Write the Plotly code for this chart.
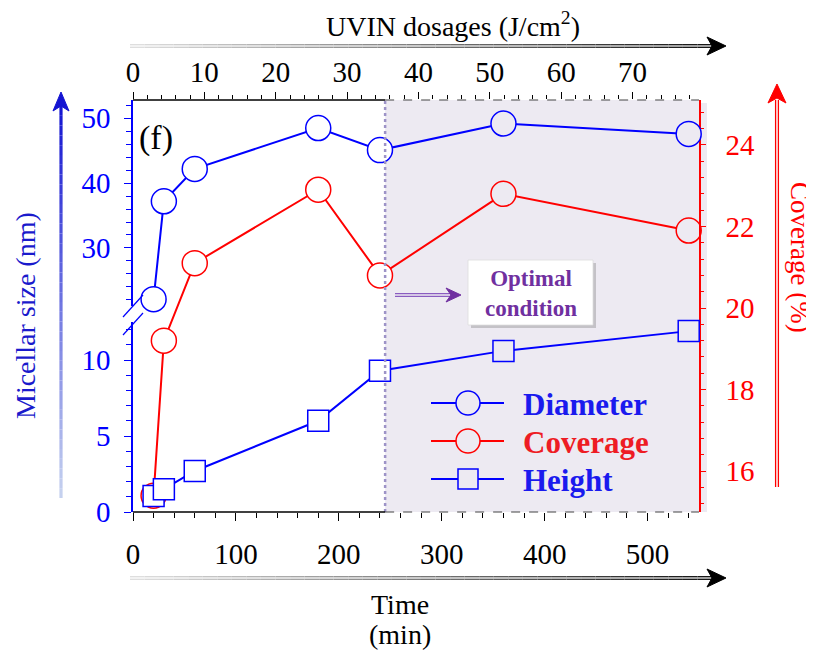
import plotly.graph_objects as go

# ---------------- data ----------------
time_min = [20, 30, 60, 180, 240, 360, 540]
diameter_nm = [22.1, 37.2, 42.2, 48.5, 45.1, 49.2, 47.6]
coverage_pct = [15.4, 19.2, 21.1, 22.9, 20.8, 22.8, 21.9]
height_nm = [1.05, 1.5, 2.7, 6.0, 9.3, 10.6, 11.9]

time_ticks = [0, 100, 200, 300, 400, 500]
dose_ticks = [0, 10, 20, 30, 40, 50, 60, 70]
coverage_ticks = [16, 18, 20, 22, 24]
height_ticks = [0, 5, 10]
diameter_ticks = [30, 40, 50]
optimal_time = 245

series_names = ["Diameter", "Coverage", "Height"]

# ---------------- layout geometry (screen pixels) ----------------
FW, FH = 814, 654
OFF = 8  # page body margin of the html page
L, R, T, B = 133, 699, 100, 512
W, H = R - L, B - T


def X(p):
    return (p - L) / W


def Y(p):
    return (B - p) / H


BLUE = "#0000ff"
RED = "#ff0000"
PURPLE = "#7030a0"
SHADE = "#edeaf2"
FONT = "Liberation Serif"

shade_fill = [SHADE if t > optimal_time else "white" for t in time_min]

fig = go.Figure()

fig.add_trace(go.Scatter(
    x=time_min, y=coverage_pct, xaxis="x", yaxis="y", mode="lines+markers",
    line=dict(color=RED, width=2),
    marker=dict(symbol="circle", size=25, color=shade_fill, line=dict(color=RED, width=1.5)),
    cliponaxis=False, showlegend=False, name=series_names[1]))
fig.add_trace(go.Scatter(
    x=time_min, y=height_nm, xaxis="x", yaxis="y2", mode="lines+markers",
    line=dict(color=BLUE, width=2),
    marker=dict(symbol="square", size=21, color=shade_fill, line=dict(color=BLUE, width=1.5)),
    cliponaxis=False, showlegend=False, name=series_names[2]))
fig.add_trace(go.Scatter(
    x=time_min, y=diameter_nm, xaxis="x", yaxis="y3", mode="lines+markers",
    line=dict(color=BLUE, width=2),
    marker=dict(symbol="circle", size=25, color=shade_fill, line=dict(color=BLUE, width=1.5)),
    cliponaxis=False, showlegend=False, name=series_names[0]))
# empty trace so that the top (dose) axis gets drawn
fig.add_trace(go.Scatter(x=[None], y=[None], xaxis="x2", yaxis="y", mode="markers",
                         showlegend=False, hoverinfo="skip"))

tickfont = dict(family=FONT, size=29)

shapes = []
annotations = []

# shaded "optimal" region
shapes.append(dict(type="rect", xref="x", yref="paper", x0=optimal_time, x1=550, y0=0, y1=1,
                   fillcolor=SHADE, line=dict(width=0), layer="below"))
shapes.append(dict(type="rect", xref="paper", yref="paper", x0=X(699), x1=X(707), y0=Y(512), y1=Y(103),
                   fillcolor=SHADE, line=dict(width=0), layer="below"))
shapes.append(dict(type="line", xref="x", yref="paper", x0=optimal_time, x1=optimal_time, y0=0, y1=1,
                   line=dict(color="#9d93c7", width=2.5, dash="dot")))

# top & bottom axis lines (solid then dashed over shaded region)
for yy in (0, 1):
    shapes.append(dict(type="line", xref="x", yref="paper", x0=0, x1=optimal_time, y0=yy, y1=yy,
                       line=dict(color="black", width=1.5)))
    shapes.append(dict(type="line", xref="x", yref="paper", x0=optimal_time, x1=550, y0=yy, y1=yy,
                       line=dict(color="#444444", width=1.2, dash="dash")))


def grad_line(x0, y0, x1, y1, c0, c1, width, n=40):
    for i in range(n):
        a = i / n
        b = (i + 1) / n
        m = (a + b) / 2
        col = "rgb(%d,%d,%d)" % tuple(int(c0[k] + (c1[k] - c0[k]) * m) for k in range(3))
        shapes.append(dict(type="line", xref="paper", yref="paper",
                           x0=X(x0 + (x1 - x0) * a), y0=Y(y0 + (y1 - y0) * a),
                           x1=X(x0 + (x1 - x0) * b), y1=Y(y0 + (y1 - y0) * b),
                           line=dict(color=col, width=width)))


def head(pts, color):
    path = "M " + " L ".join("%f,%f" % (X(px), Y(py)) for px, py in pts) + " Z"
    shapes.append(dict(type="path", xref="paper", yref="paper", path=path,
                       fillcolor=color, line=dict(color=color, width=1)))


# horizontal gradient arrows (top and bottom)
for ya in (46, 578):
    grad_line(130, ya - 1.3, 712, ya - 1.3, (225, 225, 225), (20, 20, 20), 1.4)
    grad_line(130, ya + 1.3, 712, ya + 1.3, (225, 225, 225), (20, 20, 20), 1.4)
    head([(726, ya), (707, ya - 9), (712, ya), (707, ya + 9)], "black")

# left blue gradient arrow
grad_line(61, 498, 61, 106, (200, 212, 240), (20, 20, 210), 3.2)
head([(61, 92), (53, 111), (61, 106), (69, 111)], "#1414d2")

# right red arrow (double line)
for dx in (-1.4, 1.4):
    shapes.append(dict(type="line", xref="paper", yref="paper", x0=X(777 + dx), x1=X(777 + dx),
                       y0=Y(487), y1=Y(100), line=dict(color=RED, width=1.3)))
head([(777, 84), (768, 103), (777, 98), (786, 103)], RED)

# "Optimal condition" arrow and box
for dy in (-1.3, 1.3):
    shapes.append(dict(type="line", xref="paper", yref="paper", x0=X(395), x1=X(452),
                       y0=Y(295 + dy), y1=Y(295 + dy), line=dict(color="#8a5cc0", width=1.3)))
head([(461, 295), (446, 288), (451, 295), (446, 302)], PURPLE)
shapes.append(dict(type="rect", xref="paper", yref="paper", x0=X(471), x1=X(596), y0=Y(328), y1=Y(263),
                   fillcolor="rgba(120,120,120,0.35)", line=dict(width=0)))
shapes.append(dict(type="rect", xref="paper", yref="paper", x0=X(468), x1=X(593), y0=Y(325), y1=Y(260),
                   fillcolor="white", line=dict(color="#dddddd", width=0.8)))
annotations.append(dict(xref="paper", yref="paper", x=X(531), y=Y(293), text="<b>Optimal<br>condition</b>",
                        showarrow=False, font=dict(family=FONT, size=23, color=PURPLE), align="center",
                        xanchor="center", yanchor="middle"))

# axis break marks
for yc in (306, 324):
    shapes.append(dict(type="line", xref="paper", yref="paper", x0=X(123), y0=Y(yc + 11), x1=X(143), y1=Y(yc - 11),
                       line=dict(color=BLUE, width=1.2)))

# custom legend
legend_rows = [(series_names[0], BLUE, "circle", 403), (series_names[1], RED, "circle", 441),
               (series_names[2], BLUE, "square", 479)]
for name, col, sym, yy in legend_rows:
    shapes.append(dict(type="line", xref="paper", yref="paper", x0=X(431), x1=X(504), y0=Y(yy), y1=Y(yy),
                       line=dict(color=col, width=2)))
    r = 12 if sym == "circle" else 10
    shapes.append(dict(type="circle" if sym == "circle" else "rect", xref="paper", yref="paper",
                       x0=X(468 - r), x1=X(468 + r), y0=Y(yy + r), y1=Y(yy - r),
                       fillcolor=SHADE, line=dict(color=col, width=1.5)))
    annotations.append(dict(xref="paper", yref="paper", x=X(521), y=Y(yy + 1), text="<b>%s</b>" % name,
                            showarrow=False, xanchor="left", yanchor="middle",
                            font=dict(family=FONT, size=31, color="#1a1aee" if col == BLUE else "#ee1c24")))

# titles
annotations += [
    dict(xref="paper", yref="paper", x=X(453), y=Y(24), text="UVIN dosages (J/cm<sup>2</sup>)",
         showarrow=False, font=dict(family=FONT, size=28, color="black"), xanchor="center", yanchor="middle"),
    dict(xref="paper", yref="paper", x=X(400), y=Y(604), text="Time",
         showarrow=False, font=dict(family=FONT, size=28, color="black"), xanchor="center", yanchor="middle"),
    dict(xref="paper", yref="paper", x=X(400), y=Y(634), text="(min)",
         showarrow=False, font=dict(family=FONT, size=28, color="black"), xanchor="center", yanchor="middle"),
    dict(xref="paper", yref="paper", x=X(25), y=Y(316), text="Micellar size (nm)", textangle=-90,
         showarrow=False, font=dict(family=FONT, size=28, color="#1a1acc"), xanchor="center", yanchor="middle"),
    dict(xref="paper", yref="paper", x=X(800), y=Y(257), text="Coverage (%)", textangle=90,
         showarrow=False, font=dict(family=FONT, size=27, color=RED), xanchor="center", yanchor="middle"),
    dict(xref="paper", yref="paper", x=X(156), y=Y(138), text="(f)",
         showarrow=False, font=dict(family=FONT, size=34, color="black"), xanchor="center", yanchor="middle"),
]

common = dict(showgrid=False, zeroline=False, ticks="outside", tickwidth=1.3)

fig.update_layout(
    width=FW, height=FH,
    margin=dict(l=L - OFF, r=FW - R + OFF, t=T - OFF, b=FH - B + OFF, pad=0),
    paper_bgcolor="white", plot_bgcolor="rgba(0,0,0,0)",
    showlegend=False,
    xaxis=dict(range=[0, 550], domain=[0, 1], anchor="y", tickvals=time_ticks, showline=False,
               ticklen=8, tickcolor="black", tickfont=dict(tickfont, color="black"), ticklabelstandoff=8,
               minor=dict(dtick=20, ticklen=5, tickcolor="black", ticks="outside"), **common),
    xaxis2=dict(range=[0, 79.3], overlaying="x", side="top", anchor="y", tickvals=dose_ticks, showline=False,
                ticklen=7, tickcolor="black", tickfont=dict(tickfont, color="black"), ticklabelstandoff=-2,
                minor=dict(dtick=2, ticklen=4, tickcolor="black", ticks="outside"), **common),
    yaxis=dict(range=[15.0, 25.1], domain=[0, 1], anchor="x", side="right", tickvals=coverage_ticks,
               showline=True, linecolor=RED, linewidth=1.5, ticklen=5, tickcolor=RED,
               tickfont=dict(tickfont, color=RED), ticklabelstandoff=14,
               minor=dict(dtick=0.4, ticklen=3, tickcolor=RED, ticks="outside"), **common),
    yaxis2=dict(range=[0, 12.5], domain=[0, Y(322)], anchor="x", side="left", tickvals=height_ticks,
                showline=True, linecolor=BLUE, linewidth=1.5, ticklen=7, tickcolor=BLUE,
                tickfont=dict(tickfont, color=BLUE), ticklabelstandoff=8,
                minor=dict(dtick=1, ticklen=5, tickcolor=BLUE, ticks="outside"), **common),
    yaxis3=dict(range=[21.04, 52.83], domain=[Y(306), 1], anchor="x", side="left", tickvals=diameter_ticks,
                showline=True, linecolor=BLUE, linewidth=1.5, ticklen=7, tickcolor=BLUE,
                tickfont=dict(tickfont, color=BLUE), ticklabelstandoff=8,
                minor=dict(dtick=2, ticklen=5, tickcolor=BLUE, ticks="outside"), **common),
    shapes=shapes,
    annotations=annotations,
)

fig.write_html("out.html")
